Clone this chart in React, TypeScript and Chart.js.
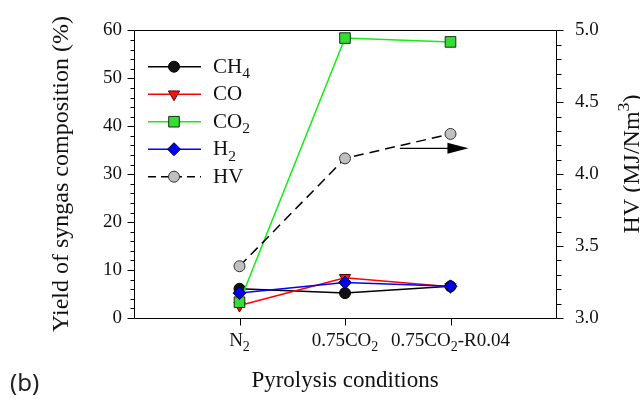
import React, { useEffect, useRef } from 'react';
import { Chart, registerables } from 'chart.js';

Chart.register(...registerables);

// ---------- data ----------
const categories = ['N_2', '0.75CO_2', '0.75CO_2-R0.04'];
const ch4 = [6.1, 5.2, 6.6];
const co = [2.6, 8.4, 6.5];
const co2 = [3.3, 58.4, 57.6];
const h2 = [5.2, 7.4, 6.6];
const hv = [3.36, 4.11, 4.28];
const seriesNames = ['CH_4', 'CO', 'CO_2', 'H_2', 'HV'];
const leftTickValues = [0, 10, 20, 30, 40, 50, 60];
const rightTickValues = [3.0, 3.5, 4.0, 4.5, 5.0];
const arrowFrom = [2.52, 4.18];
const arrowTo = [3.17, 4.18];

const SERIF = '"Liberation Serif", "Times New Roman", serif';
const SANS = '"Noto Sans", "DejaVu Sans", sans-serif';

type Part = { t: string; k: number };
function parseRich(s: string): Part[] {
  const parts: Part[] = [];
  let buf = '';
  let i = 0;
  while (i < s.length) {
    const c = s[i];
    if ((c === '_' || c === '^') && i + 1 < s.length) {
      if (buf) { parts.push({ t: buf, k: 0 }); buf = ''; }
      parts.push({ t: s[i + 1], k: c === '_' ? 1 : -1 });
      i += 2;
    } else { buf += c; i++; }
  }
  if (buf) parts.push({ t: buf, k: 0 });
  return parts;
}

function drawRich(ctx: CanvasRenderingContext2D, s: string, x: number, y: number, size: number, align: string, family: string) {
  const parts = parseRich(s);
  const sub = size * 0.74;
  let w = 0;
  for (const p of parts) {
    ctx.font = `${p.k ? sub : size}px ${family}`;
    w += ctx.measureText(p.t).width;
  }
  let cx = align === 'left' ? x : align === 'center' ? x - w / 2 : x - w;
  ctx.textAlign = 'left';
  ctx.textBaseline = 'alphabetic';
  for (const p of parts) {
    ctx.font = `${p.k ? sub : size}px ${family}`;
    const dy = p.k === 1 ? size * 0.26 : p.k === -1 ? -size * 0.4 : 0;
    ctx.fillText(p.t, cx, y + dy);
    cx += ctx.measureText(p.t).width;
  }
}

function drawMarker(ctx: CanvasRenderingContext2D, style: string, x: number, y: number, r: number, fill: string, stroke: string) {
  ctx.save();
  ctx.beginPath();
  if (style === 'circle') {
    ctx.arc(x, y, r, 0, Math.PI * 2);
  } else if (style === 'triangleDown') {
    let rad = Math.PI;
    ctx.moveTo(x + Math.sin(rad) * r, y - Math.cos(rad) * r);
    rad += (2 * Math.PI) / 3;
    ctx.lineTo(x + Math.sin(rad) * r, y - Math.cos(rad) * r);
    rad += (2 * Math.PI) / 3;
    ctx.lineTo(x + Math.sin(rad) * r, y - Math.cos(rad) * r);
    ctx.closePath();
  } else if (style === 'rect') {
    const s = Math.SQRT1_2 * r;
    ctx.rect(x - s, y - s, 2 * s, 2 * s);
  } else if (style === 'diamond') {
    ctx.moveTo(x, y - r);
    ctx.lineTo(x + r, y);
    ctx.lineTo(x, y + r);
    ctx.lineTo(x - r, y);
    ctx.closePath();
  }
  ctx.fillStyle = fill;
  ctx.fill();
  ctx.lineWidth = 1;
  ctx.strokeStyle = stroke;
  ctx.stroke();
  ctx.restore();
}

const styles = [
  { line: '#000000', fill: '#111111', stroke: '#000000', marker: 'circle', r: 5.5, dash: [] as number[] },
  { line: '#ff0000', fill: '#ff1010', stroke: '#550000', marker: 'triangleDown', r: 6.5, dash: [] as number[] },
  { line: '#11ee11', fill: '#33dd33', stroke: '#113311', marker: 'rect', r: 7.5, dash: [] as number[] },
  { line: '#0000ff', fill: '#0000ee', stroke: '#000033', marker: 'diamond', r: 6.5, dash: [] as number[] },
  { line: '#000000', fill: '#c0c0c0', stroke: '#333333', marker: 'circle', r: 5.5, dash: [10, 6] },
];

const chartStyleMap: Record<string, { pointStyle: string; rotation: number }> = {
  circle: { pointStyle: 'circle', rotation: 0 },
  triangleDown: { pointStyle: 'triangle', rotation: 180 },
  rect: { pointStyle: 'rect', rotation: 0 },
  diamond: { pointStyle: 'rectRot', rotation: 0 },
};

const decorPlugin = {
  id: 'decor',
  afterDraw(chart: any) {
    const ctx: CanvasRenderingContext2D = chart.ctx;
    const { left, right, top, bottom } = chart.chartArea;
    const xs = chart.scales.x;
    const yl = chart.scales.y;
    const yr = chart.scales.y1;
    ctx.save();
    ctx.strokeStyle = '#000';
    ctx.lineWidth = 1;
    // box
    ctx.beginPath();
    ctx.moveTo(Math.round(left) + 0.5, Math.round(top) + 0.5);
    ctx.lineTo(Math.round(right) + 0.5, Math.round(top) + 0.5);
    ctx.moveTo(Math.round(left) + 0.5, Math.round(top) + 0.5);
    ctx.lineTo(Math.round(left) + 0.5, Math.round(bottom) + 0.5);
    ctx.moveTo(Math.round(right) + 0.5, Math.round(top) + 0.5);
    ctx.lineTo(Math.round(right) + 0.5, Math.round(bottom) + 0.5);
    ctx.moveTo(Math.round(left) + 0.5, Math.round(bottom) + 0.5);
    ctx.lineTo(Math.round(right) + 0.5, Math.round(bottom) + 0.5);
    ctx.stroke();
    // left ticks
    ctx.beginPath();
    for (let v = 0; v <= 60; v += 2) {
      const py = Math.round(yl.getPixelForValue(v)) + 0.5;
      const len = v % 10 === 0 ? 7 : 4;
      ctx.moveTo(Math.round(left) + 0.5 - len, py);
      ctx.lineTo(Math.round(left) + 0.5, py);
    }
    // right ticks
    for (let i = 30; i <= 50; i++) {
      const py = Math.round(yr.getPixelForValue(i / 10)) + 0.5;
      const len = i % 5 === 0 ? 7 : 5;
      ctx.moveTo(Math.round(right) + 0.5, py);
      ctx.lineTo(Math.round(right) + 0.5 + len, py);
    }
    // x ticks
    categories.forEach((_, i) => {
      const px = Math.round(xs.getPixelForValue(i + 1)) + 0.5;
      ctx.moveTo(px, Math.round(bottom) + 0.5);
      ctx.lineTo(px, Math.round(bottom) + 7.5);
    });
    ctx.stroke();

    ctx.fillStyle = '#111';
    // x labels
    categories.forEach((c, i) => {
      const px = xs.getPixelForValue(i + 1);
      drawRich(ctx, c, px, bottom + 28, 19, 'center', SERIF);
    });
    // titles
    drawRich(ctx, 'Pyrolysis conditions', (left + right) / 2, 387, 23, 'center', SERIF);
    ctx.save();
    ctx.translate(68, 174);
    ctx.rotate(-Math.PI / 2);
    drawRich(ctx, 'Yield of syngas composition (%)', 0, 0, 24, 'center', SERIF);
    ctx.restore();
    ctx.save();
    ctx.translate(639, 164);
    ctx.rotate(-Math.PI / 2);
    drawRich(ctx, 'HV (MJ/Nm^3)', 0, 0, 24, 'center', SERIF);
    ctx.restore();

    // legend
    const lx0 = 148, lx1 = 201, mx = 174, tx = 213;
    seriesNames.forEach((name, i) => {
      const st = styles[i];
      const ly = 66.7 + i * 27.5;
      ctx.save();
      ctx.strokeStyle = st.line;
      ctx.lineWidth = 1.5;
      ctx.setLineDash(i === 4 ? [8, 5] : []);
      ctx.beginPath();
      ctx.moveTo(lx0, ly);
      ctx.lineTo(lx1, ly);
      ctx.stroke();
      ctx.restore();
      drawMarker(ctx, st.marker, mx, ly, st.r, st.fill, st.stroke);
      ctx.fillStyle = '#111';
      drawRich(ctx, name, tx, ly + 6, 21, 'left', SERIF);
    });

    // arrow
    const ax0 = xs.getPixelForValue(arrowFrom[0]);
    const ay = yr.getPixelForValue(arrowFrom[1]);
    const ax1 = xs.getPixelForValue(arrowTo[0]);
    ctx.strokeStyle = '#000';
    ctx.lineWidth = 1.2;
    ctx.beginPath();
    ctx.moveTo(ax0, ay);
    ctx.lineTo(ax1 - 12, ay);
    ctx.stroke();
    ctx.beginPath();
    ctx.moveTo(ax1, ay);
    ctx.lineTo(ax1 - 21, ay - 5.5);
    ctx.lineTo(ax1 - 21, ay + 5.5);
    ctx.closePath();
    ctx.fillStyle = '#000';
    ctx.fill();

    // panel label
    ctx.fillStyle = '#222';
    ctx.font = `24px ${SANS}`;
    ctx.textAlign = 'left';
    ctx.textBaseline = 'alphabetic';
    ctx.fillText('(b)', 10, 391);
    ctx.restore();
  },
};

export default function App() {
  const ref = useRef<HTMLCanvasElement | null>(null);
  useEffect(() => {
    if (!ref.current) return;
    const series = [ch4, co, co2, h2, hv];
    const orders = [5, 4, 3, 2, 1];
    const datasets = series.map((vals, i) => {
      const st = styles[i];
      const m = chartStyleMap[st.marker];
      return {
        label: seriesNames[i],
        data: vals.map((v, j) => ({ x: j + 1, y: v })),
        yAxisID: i === 4 ? 'y1' : 'y',
        borderColor: st.line,
        backgroundColor: st.fill,
        borderWidth: 1.5,
        borderDash: st.dash,
        pointStyle: m.pointStyle,
        rotation: m.rotation,
        pointRadius: st.r,
        pointBackgroundColor: st.fill,
        pointBorderColor: st.stroke,
        pointBorderWidth: 1,
        tension: 0,
        fill: false,
        order: orders[i],
        clip: false as any,
      };
    });
    const chart = new Chart(ref.current, {
      type: 'line',
      data: { datasets: datasets as any },
      options: {
        animation: false,
        responsive: false,
        events: [],
        layout: { padding: { top: 23, left: 0, right: 0, bottom: 0 } },
        plugins: { legend: { display: false }, tooltip: { enabled: false } },
        scales: {
          x: {
            type: 'linear',
            min: 0,
            max: 4,
            ticks: { display: false, stepSize: 1 },
            grid: { display: false, drawTicks: false },
            border: { display: false },
            afterFit: (s: any) => { s.height = 81; },
          },
          y: {
            type: 'linear',
            position: 'left',
            min: 0,
            max: 60,
            afterBuildTicks: (s: any) => { s.ticks = leftTickValues.map((v) => ({ value: v })); },
            ticks: { padding: 12, color: '#111', font: { family: SERIF, size: 19 }, autoSkip: false },
            grid: { display: false, drawTicks: false },
            border: { display: false },
            afterFit: (s: any) => { s.width = 134; },
          },
          y1: {
            type: 'linear',
            position: 'right',
            min: 3,
            max: 5,
            afterBuildTicks: (s: any) => { s.ticks = rightTickValues.map((v) => ({ value: v })); },
            ticks: {
              padding: 19,
              color: '#111',
              font: { family: SERIF, size: 19 },
              autoSkip: false,
              callback: (v: any) => Number(v).toFixed(1),
            },
            grid: { display: false, drawTicks: false },
            border: { display: false },
            afterFit: (s: any) => { s.width = 84; },
          },
        },
      },
      plugins: [decorPlugin],
    });
    return () => chart.destroy();
  }, []);
  return (
    <div style={{ position: 'fixed', left: 0, top: 0, width: 640, height: 399, background: '#fff' }}>
      <canvas ref={ref} width={640} height={399} style={{ display: 'block' }} />
    </div>
  );
}
